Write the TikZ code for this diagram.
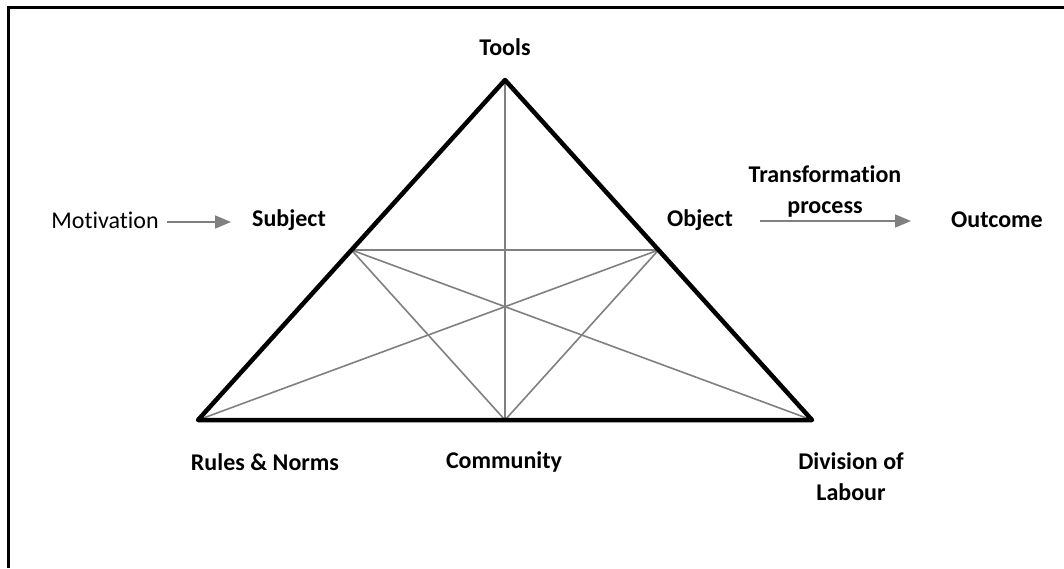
\documentclass[tikz,border=0pt]{standalone}
\usepackage{fontspec}
\setmainfont{Carlito}[Ligatures={NoCommon}]
\usetikzlibrary{arrows.meta}
\begin{document}
\begin{tikzpicture}[x=1pt,y=-1pt,
  lbl/.style={font=\fontsize{24}{31}\selectfont\bfseries, inner sep=0pt, align=center},
  plain/.style={font=\fontsize{24}{31}\selectfont, inner sep=0pt},
  thick line/.style={line width=4.5pt, line join=round, line cap=round},
  thin line/.style={line width=1.6pt, draw=gray},
  grayarrow/.style={line width=1.6pt, draw=gray, -{Triangle[length=16pt,width=13pt,fill=gray]}}]
\useasboundingbox (0,0) rectangle (1064,568);
\fill[white] (0,0) rectangle (1064,568);
% frame (only top and left edges visible)
\coordinate (fc) at (8,7);
\coordinate (fr) at (1064,7);
\coordinate (fb) at (8,568);
\draw[line width=3pt] (fr) -- (fc) -- (fb);
% triangle points
\coordinate (T) at (505,80);
\coordinate (L) at (198,420);
\coordinate (R) at (812,420);
\coordinate (B) at (505,420);
\coordinate (ML) at (351.5,250);
\coordinate (MR) at (658.5,250);
% inner gray lines
\draw[thin line] (T) -- (B);
\draw[thin line] (ML) -- (MR);
\draw[thin line] (ML) -- (B);
\draw[thin line] (MR) -- (B);
\draw[thin line] (ML) -- (R);
\draw[thin line] (MR) -- (L);
% outer triangle
\draw[thick line] (T) -- (L) -- (R) -- cycle;
% labels
\node[lbl] (tools) at (505,47) {Tools};
\node[plain] (motiv) at (105,220) {Motivation};
\node[lbl] (subj) at (289,220) {Subject};
\node[lbl] (obj) at (700,220) {Object};
\node[lbl] (outc) at (997,220) {Outcome};
\node[lbl] (trans) at (825,191) {Transformation\\process};
\node[lbl] (rules) at (265,462) {Rules \& Norms};
\node[lbl] (comm) at (504,462) {Community};
\node[lbl] (div) at (851,477) {Division of\\Labour};
% arrows
\coordinate (a1s) at (167,222);
\coordinate (a1e) at (231,222);
\draw[grayarrow] (a1s) -- (a1e);
\coordinate (a2s) at (760,221);
\coordinate (a2e) at (911,221);
\draw[grayarrow] (a2s) -- (a2e);
\end{tikzpicture}
\end{document}
